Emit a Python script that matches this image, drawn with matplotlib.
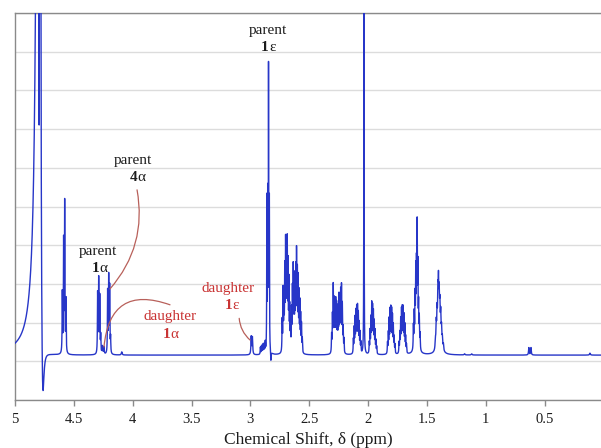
import numpy as np
import matplotlib
matplotlib.use("Agg")
import matplotlib.pyplot as plt
from matplotlib.patches import FancyArrowPatch

# ---------------------------------------------------------------------------
# 1H NMR resonances: centre (ppm), height above baseline, half-widths (ppm)
# hwhm_left applies on the low-field (higher ppm) side, hwhm_right upfield.
# ---------------------------------------------------------------------------
water_ppm = [4.787, 4.795, 4.765]
water_height = [1000.0, -175.5, -2.0]
water_hwhm_left = [0.00377, 0.0006, 0.012]
water_hwhm_right = [0.0008, 0.0006, 0.012]

line_ppm = [
    # 4.58 multiplet
    4.598, 4.587, 4.578, 4.567,
    # parent 1-alpha (4.29)
    4.298, 4.289, 4.280, 4.272,
    # daughter 1-alpha
    4.258, 4.245,
    # parent 4-alpha (4.20)
    4.213, 4.204, 4.196, 4.188,
    # small signal
    4.093,
    # daughter 1-epsilon
    2.993, 2.983,
    # 2.92-2.87 cluster
    2.915, 2.906, 2.898, 2.890, 2.882, 2.874,
    # parent 1-epsilon
    2.860, 2.853, 2.846, 2.839, 2.826,
    # 2.73-2.66 multiplet
    2.730, 2.722, 2.715, 2.708, 2.701, 2.694, 2.687, 2.680, 2.673, 2.666, 2.659,
    # 2.65-2.56 multiplet
    2.650, 2.643, 2.636, 2.629, 2.622, 2.615, 2.608, 2.601, 2.594, 2.587,
    2.580, 2.573, 2.566, 2.559,
    # 2.31-2.20 multiplet
    2.310, 2.303, 2.296, 2.289, 2.282, 2.275, 2.268, 2.261, 2.254, 2.247,
    2.240, 2.233, 2.226, 2.219, 2.212, 2.205,
    # 2.09 multiplet
    2.125, 2.118, 2.111, 2.104, 2.097, 2.090, 2.083, 2.076, 2.069, 2.062,
    # acetate singlet
    2.035,
    # 1.96 multiplet
    1.990, 1.983, 1.976, 1.969, 1.962, 1.955, 1.948, 1.941, 1.934, 1.927,
    # 1.80 multiplet
    1.835, 1.828, 1.821, 1.814, 1.807, 1.800, 1.793, 1.786, 1.779, 1.772,
    # 1.71 multiplet
    1.737, 1.730, 1.723, 1.716, 1.709, 1.702, 1.695, 1.688, 1.681, 1.674,
    # 1.58 multiplet
    1.615, 1.608, 1.601, 1.595, 1.589, 1.583, 1.577, 1.571, 1.565, 1.558, 1.590,
    # 1.40 multiplet
    1.428, 1.421, 1.414, 1.407, 1.402, 1.396, 1.390, 1.383, 1.376, 1.369, 1.360, 1.395,
    # minor upfield signals
    1.180, 1.120, 0.634, 0.616, 0.115,
]

line_height = [
    1.55, 2.85, 3.85, 1.35,
    1.55, 1.90, 1.45, 0.45,
    0.20, 0.19,
    1.60, 1.95, 1.70, 0.40,
    0.08,
    0.46, 0.44,
    0.18, 0.20, 0.22, 0.24, 0.22, 0.27,
    3.90, 3.90, 7.20, 3.80, -0.25,
    0.80, 1.55, 1.35, 2.00, 2.65, 2.30, 2.65, 2.10, 1.70, 1.05, 0.70,
    1.00, 1.50, 2.05, 1.55, 1.75, 1.95, 2.40, 1.90, 1.75, 1.40,
    1.20, 0.90, 0.70, 0.35,
    0.45, 0.90, 1.65, 1.25, 1.05, 1.25, 1.15, 0.90, 1.05, 1.35,
    1.30, 1.45, 1.60, 1.15, 0.60, 0.35,
    0.35, 0.62, 0.85, 1.00, 1.08, 1.12, 0.95, 0.72, 0.50, 0.27,
    14.0,
    0.27, 0.55, 0.85, 1.20, 1.12, 1.00, 0.76, 0.55, 0.32, 0.18,
    0.27, 0.50, 0.82, 1.04, 1.08, 1.04, 0.90, 0.68, 0.40, 0.22,
    0.27, 0.50, 0.82, 1.04, 1.08, 1.08, 0.90, 0.68, 0.40, 0.22,
    0.60, 0.85, 1.20, 1.80, 1.85, 2.90, 1.90, 1.00, 0.75, 0.40, 0.20,
    0.22, 0.60, 0.80, 1.10, 1.30, 1.02, 0.82, 0.72, 0.45, 0.26, 0.16, 0.28,
    0.03, 0.03, 0.19, 0.19, 0.05,
]

line_hwhm = (
    [0.002] * 4 + [0.002] * 4 + [0.003] * 2 + [0.002] * 4 + [0.004]
    + [0.003] * 2 + [0.002] * 6 + [0.0015] * 4 + [0.002]
    + [0.002] * 11 + [0.002] * 14 + [0.002] * 16 + [0.002] * 10
    + [0.0012]
    + [0.002] * 10 + [0.002] * 10 + [0.002] * 10
    + [0.002] * 10 + [0.02]
    + [0.003] * 11 + [0.02]
    + [0.004] * 2 + [0.003] * 2 + [0.004]
)

baseline_level = 1.16

x_ticks = [5, 4.5, 4, 3.5, 3, 2.5, 2, 1.5, 1, 0.5]
x_tick_labels = ["5", "4.5", "4", "3.5", "3", "2.5", "2", "1.5", "1", "0.5"]

BLACK = "#1c1c1c"
RED = "#c93434"
LEADER = "#b8605a"
BLUE = "#2736c8"

plt.rcParams["font.family"] = ["Liberation Serif", "DejaVu Serif"]


def lorentzian(x, centre, height, w_left, w_right):
    d = x - centre
    w = np.where(d >= 0, w_left, w_right)
    return height * w ** 2 / (d ** 2 + w ** 2)


ppm = np.linspace(5.0, 0.0, 60001)
signal = np.zeros_like(ppm)
for c, h, wl, wr in zip(water_ppm, water_height, water_hwhm_left, water_hwhm_right):
    signal += lorentzian(ppm, c, h, wl, wr)
for c, h, w in zip(line_ppm, line_height, line_hwhm):
    signal += lorentzian(ppm, c, h, w, w)
intensity = baseline_level + signal

fig = plt.figure(figsize=(6.01, 4.48), dpi=100)
ax = fig.add_axes([15 / 601, 48 / 448, 586 / 601, 387 / 448])

ax.plot(ppm, intensity, color=BLUE, lw=1.0, zorder=3)

ax.set_xlim(5, 0.021)
ax.set_ylim(0, 10)
ax.set_yticks(np.arange(0, 11, 1))
ax.tick_params(axis="y", length=0, labelleft=False)
ax.yaxis.grid(True, color="#dcdcdc", lw=1.0)
ax.set_axisbelow(True)

ax.set_xticks(x_ticks)
ax.set_xticklabels(x_tick_labels)
ax.tick_params(axis="x", direction="out", length=4, width=1.0, color="#8a8a8a",
               labelsize=10.5, labelcolor=BLACK, pad=5)

for side in ("left", "top", "bottom"):
    ax.spines[side].set_color("#8a8a8a")
    ax.spines[side].set_linewidth(1.0)
ax.spines["right"].set_visible(False)

ax.set_xlabel("Chemical Shift, \u03b4 (ppm)", fontsize=12.5, color=BLACK, labelpad=4.5)


def compound_label(x, y, number, greek, color, size=11):
    ax.text(x, y, number, ha="right", va="center", fontsize=size,
            fontweight="bold", color=color)
    ax.text(x, y, greek, ha="left", va="center", fontsize=size, color=color)


# parent 1-epsilon
ax.text(2.850, 9.56, "parent", ha="center", va="center", fontsize=11, color=BLACK)
compound_label(2.842, 9.10, "1", "\u03b5", BLACK)
# parent 4-alpha
ax.text(3.997, 6.20, "parent", ha="center", va="center", fontsize=11, color=BLACK)
compound_label(3.963, 5.74, "4", "\u03b1", BLACK)
# parent 1-alpha
ax.text(4.295, 3.85, "parent", ha="center", va="center", fontsize=11, color=BLACK)
compound_label(4.286, 3.41, "1", "\u03b1", BLACK)
# daughter 1-alpha
ax.text(3.683, 2.15, "daughter", ha="center", va="center", fontsize=11, color=RED)
compound_label(3.683, 1.68, "1", "\u03b1", RED)
# daughter 1-epsilon
ax.text(3.190, 2.89, "daughter", ha="center", va="center", fontsize=11, color=RED)
compound_label(3.156, 2.43, "1", "\u03b5", RED)

# curved leader lines from labels to their signals
leaders = [
    ((3.963, 5.43), (4.193, 2.87), -0.24),
    ((3.683, 2.46), (4.244, 1.37), 0.64),
    ((3.095, 2.11), (3.003, 1.55), 0.2),
]
for start, end, rad in leaders:
    ax.add_patch(FancyArrowPatch(start, end, arrowstyle="-",
                                 connectionstyle=f"arc3,rad={rad}",
                                 color=LEADER, lw=0.9, shrinkA=0, shrinkB=0,
                                 zorder=4))

fig.savefig("out.png", dpi=100)
